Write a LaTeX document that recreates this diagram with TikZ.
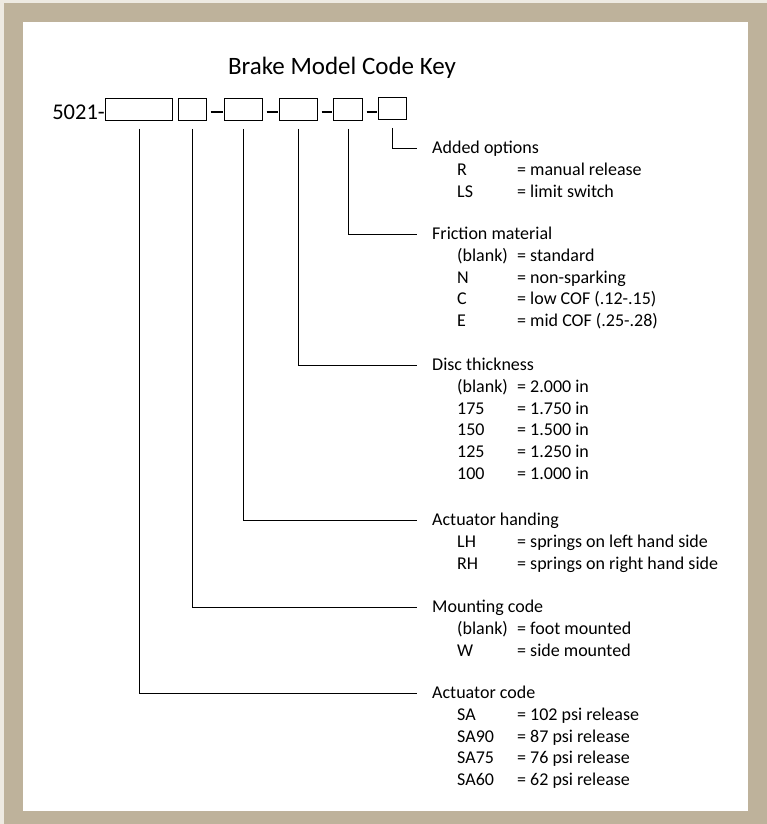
\documentclass[tikz,border=0pt]{standalone}
\usepackage{fontspec}
\setmainfont{Carlito}
\usetikzlibrary{positioning, calc}
\definecolor{frametan}{RGB}{190,178,155}
\definecolor{frameedge}{RGB}{238,234,226}

\begin{document}
\begin{tikzpicture}[x=1pt, y=-1pt,
    codebox/.style={draw, line width=1.4pt, minimum height=21.6pt, inner sep=0pt},
    heading/.style={anchor=west, inner sep=0pt, text height=11.6pt, text depth=0pt,
                    font=\fontsize{18}{20}\selectfont},
    entry/.style={heading},
    leader/.style={line width=0.9pt}]
    % Frame
    \fill[frameedge] (0,0) rectangle (767,824);
    \fill[frametan] (4,3) rectangle (767,824);
    \fill[white] (23,22) rectangle (748,811);
    \useasboundingbox (0,0) rectangle (767,824);
    % Title
    \node[anchor=base, font=\fontsize{25}{30}\selectfont] (title) at (342,75) {Brake Model Code Key};
    % Code boxes
    \node[codebox, minimum width=66.6pt] (b1) at (139,109.5) {};
    \node[codebox, minimum width=27.6pt] (b2) at (192.5,109.5) {};
    \node[codebox, minimum width=37.6pt] (b3) at (243.5,109.5) {};
    \node[codebox, minimum width=37.6pt] (b4) at (298.5,109.5) {};
    \node[codebox, minimum width=28.6pt] (b5) at (348,109.5) {};
    \node[codebox, minimum width=27.6pt] (b6) at (392.5,108.5) {};
    \node[anchor=base east, inner sep=0pt, font=\fontsize{22.5}{26}\selectfont] (prefix)
        at ([yshift=1pt]b1.south west) {5021-};
    \foreach \a/\b in {b2/b3, b3/b4, b4/b5, b5/b6}
        \draw[line width=2.8pt] ([xshift=3.5pt]\a.east |- 0,112) -- ([xshift=-1.5pt]\b.west |- 0,112);
    % Headings
    \node[heading] (hAdd) at (432,148) {Added options};
    \node[heading] (hFric) at (432,234) {Friction material};
    \node[heading] (hDisc) at (432,365) {Disc thickness};
    \node[heading] (hHand) at (432,520) {Actuator handing};
    \node[heading] (hMount) at (432,607) {Mounting code};
    \node[heading] (hAct) at (432,693) {Actuator code};
    % Leaders
    \draw[leader] ([yshift=-8pt]b6.south) |- ([xshift=-15pt]hAdd.west);
    \draw[leader] ([yshift=-8pt]b5.south) |- ([xshift=-15pt]hFric.west);
    \draw[leader] ([yshift=-8pt]b4.south) |- ([xshift=-15pt]hDisc.west);
    \draw[leader] ([yshift=-8pt]b3.south) |- ([xshift=-15pt]hHand.west);
    \draw[leader] ([yshift=-8pt]b2.south) |- ([xshift=-15pt]hMount.west);
    \draw[leader] ([yshift=-8pt]b1.south) |- ([xshift=-15pt]hAct.west);
    % Entries
    \foreach \h/\list in {
        hAdd/{R/manual release, LS/limit switch},
        hFric/{{(blank)}/standard, N/non-sparking, C/low COF (.12-.15), E/mid COF (.25-.28)},
        hDisc/{{(blank)}/2.000 in, 175/1.750 in, 150/1.500 in, 125/1.250 in, 100/1.000 in},
        hHand/{LH/springs on left hand side, RH/springs on right hand side},
        hMount/{{(blank)}/foot mounted, W/side mounted},
        hAct/{SA/102 psi release, SA90/87 psi release, SA75/76 psi release, SA60/62 psi release}}
        \foreach \k/\v [count=\i] in \list {
            \node[entry] (\h-k\i) at ($(\h.west)+(25,21.7*\i)$) {\k};
            \node[entry] (\h-v\i) at ($(\h.west)+(85,21.7*\i)$) {= \v};
        };
\end{tikzpicture}
\end{document}
